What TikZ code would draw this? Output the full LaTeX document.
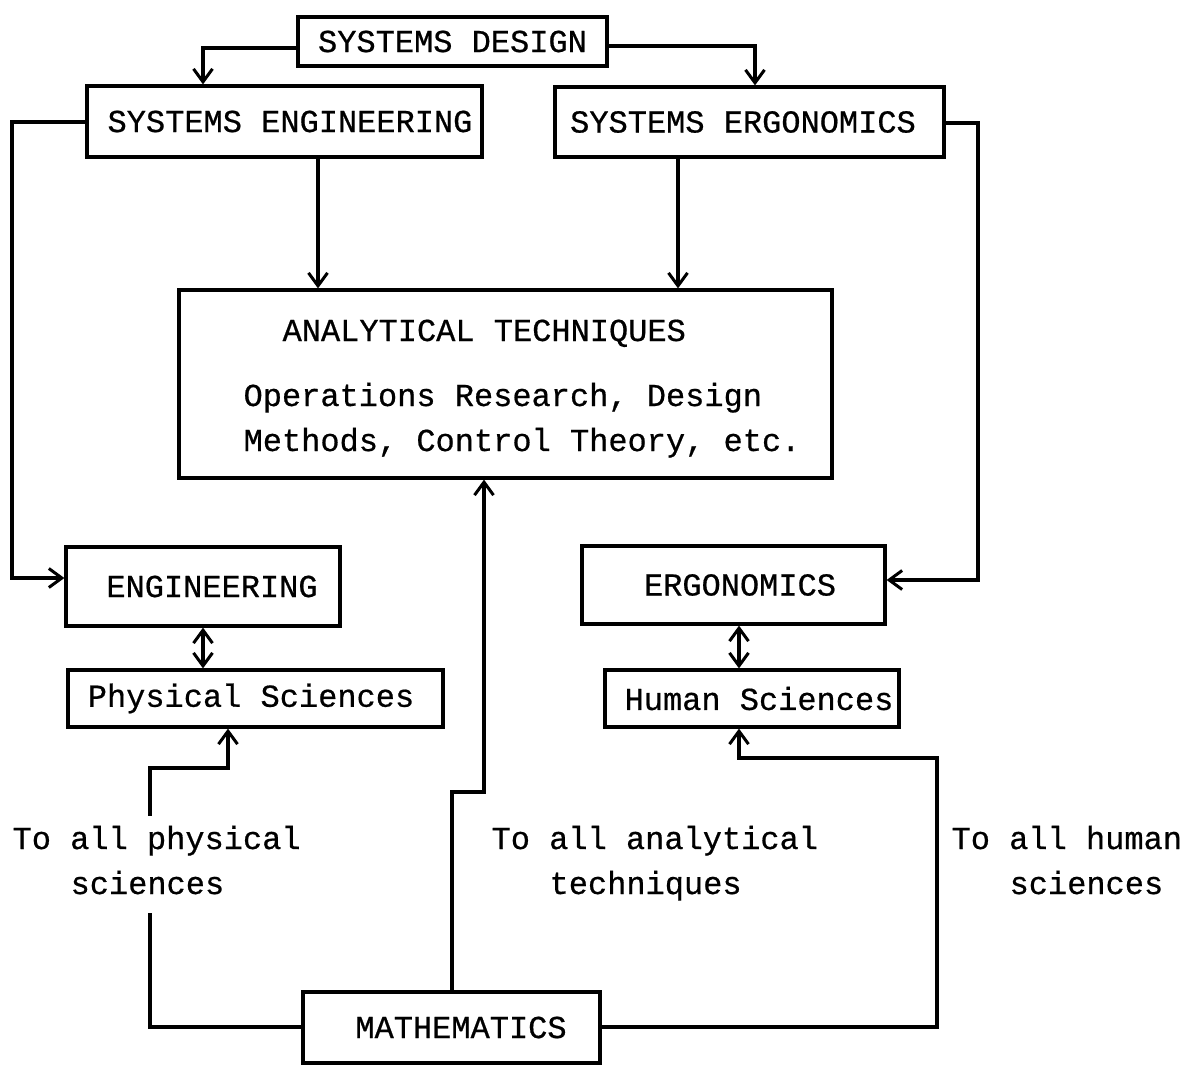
\documentclass[tikz,border=0pt]{standalone}
\usepackage{fontspec}
\setmainfont{Liberation Mono}[FakeBold=0.6]
\usetikzlibrary{arrows.meta}
\begin{document}
\begin{tikzpicture}[x=1pt,y=-1pt,
  font=\fontsize{32}{40}\selectfont,
  line width=3.2pt,
  box/.style={draw, rectangle, inner sep=0pt},
  tip/.tip={Straight Barb[length=13pt,width=19pt,line width=3pt]},
  arr/.style={-tip},
  darr/.style={tip-tip},
  lbl/.style={anchor=base west, inner sep=0pt},
  mask/.style={lbl, fill=white, inner xsep=1pt, inner ysep=9pt, text height=24pt, text depth=10pt},
]
\useasboundingbox (0,0) rectangle (1197,1068);

% boxes
\node[box, minimum width=309pt, minimum height=49pt] (sd) at (452.5,41.5) {SYSTEMS DESIGN};
\node[box, minimum width=395pt, minimum height=71pt] (se) at (284.5,121.5) {\hspace*{11pt}SYSTEMS ENGINEERING};
\node[box, minimum width=389pt, minimum height=70pt] (ser) at (749.5,122) {SYSTEMS ERGONOMICS\hspace*{13pt}};
\node[box, minimum width=653pt, minimum height=188pt] (at) at (505.5,384) {};
\node[lbl] (at1) at (281,341) {ANALYTICAL TECHNIQUES};
\node[lbl] (at2) at (242,406) {Operations Research, Design};
\node[lbl] (at3) at (242,451) {Methods, Control Theory, etc.};
\node[box, minimum width=274pt, minimum height=79pt] (eng) at (203,586.5) {\hspace*{18pt}ENGINEERING};
\node[box, minimum width=375pt, minimum height=57pt] (ps) at (255.5,698.5) {Physical Sciences\hspace*{9pt}};
\node[box, minimum width=303pt, minimum height=78pt] (erg) at (733.5,585) {\hspace*{13pt}ERGONOMICS};
\node[box, minimum width=294pt, minimum height=57pt] (hs) at (752,698.5) {\hspace*{14pt}Human Sciences};
\node[box, minimum width=297pt, minimum height=71pt] (math) at (451.5,1027.5) {\hspace*{19pt}MATHEMATICS};

% connectors
\draw[arr] (sd.west |- 0,48) -| (se.north -| 203,0);
\draw[arr] (sd.east |- 0,46) -| (ser.north -| 755,0);
\draw[arr] (se.west |- 0,122) -| (12,578) -- (eng.west |- 0,578);
\draw[arr] (se.south -| 318,0) -- (at.north -| 318,0);
\draw[arr] (ser.south -| 678,0) -- (at.north -| 678,0);
\draw[arr] (ser.east |- 0,123) -| (978,580) -- (erg.east |- 0,580);
\draw[darr] (eng.south -| 203,0) -- (ps.north -| 203,0);
\draw[darr] (erg.south -| 739,0) -- (hs.north -| 739,0);
\draw[arr] (math.west |- 0,1027) -| (150,768) -| (ps.south -| 228,0);
\draw[arr] (math.north -| 452,0) |- (484,792) -- (at.south -| 484,0);
\draw[arr] (math.east |- 0,1027) -| (937,758) -| (hs.south -| 739,0);

% labels
\node[mask] (tp1) at (10,849) {To all physical};
\node[mask] (tp2) at (68,894) {sciences};
\node[lbl] (ta1) at (490,849) {To all analytical};
\node[lbl] (ta2) at (548,894) {techniques};
\node[lbl] (th1) at (950,849) {To all human};
\node[lbl] (th2) at (1008,894) {sciences};
\end{tikzpicture}
\end{document}
